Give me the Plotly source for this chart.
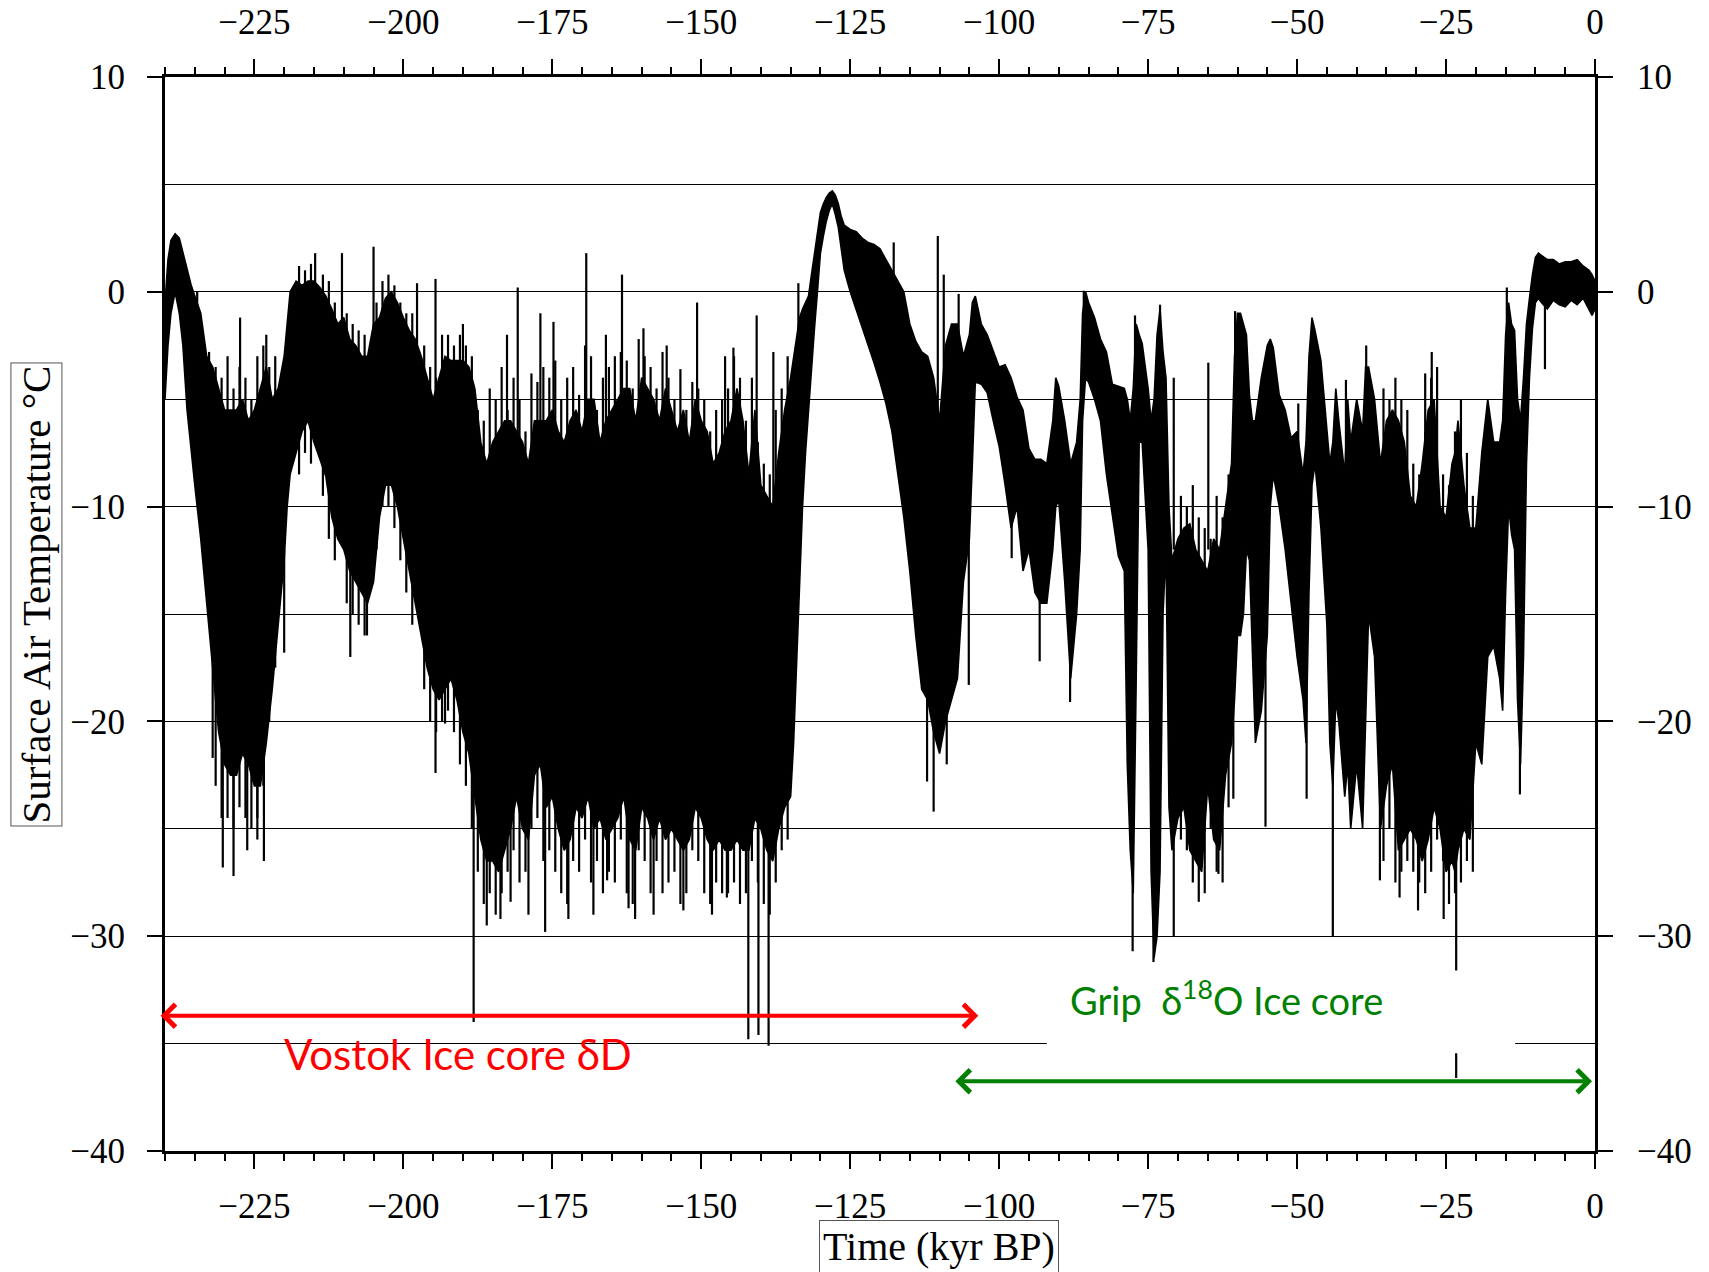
import plotly.graph_objects as go

# ---------------- data ----------------
# band of the temperature record: time (kyr BP), lower and upper envelope (deg C)
t_env = [-240.0, -239.5, -239.0, -238.3, -237.6, -237.0, -236.3, -235.6, -235.0, -234.0,
         -233.0, -232.0, -231.0, -230.0, -229.0, -228.0, -227.0, -226.0, -225.0, -224.0,
         -223.0, -222.0, -221.0, -220.0, -219.5, -219.0, -218.0, -217.0, -216.0, -215.0,
         -214.0, -213.0, -212.0, -211.0, -210.0, -209.0, -208.0, -207.0, -206.0, -205.0,
         -204.0, -203.0, -202.0, -201.0, -200.0, -199.0, -198.0, -197.0, -196.0, -195.0,
         -194.0, -193.0, -192.0, -191.0, -190.0, -189.0, -188.0, -187.0, -186.0, -185.0,
         -184.0, -183.0, -182.0, -181.0, -180.0, -179.0, -178.0, -177.0, -176.0, -175.0,
         -174.0, -173.0, -172.0, -171.0, -170.0, -169.0, -168.0, -167.0, -166.0, -165.0,
         -164.0, -163.0, -162.0, -161.0, -160.0, -159.0, -158.0, -157.0, -156.0, -155.0,
         -154.0, -153.0, -152.0, -151.0, -150.0, -149.0, -148.0, -147.0, -146.0, -145.0,
         -144.0, -143.0, -142.0, -141.0, -140.0, -139.0, -138.0, -137.0, -136.0, -135.0,
         -134.5, -134.0, -133.5, -133.0, -132.5, -132.0, -131.5, -131.0, -130.5, -130.0,
         -129.5, -129.0, -128.5, -128.0, -127.5, -127.0, -126.5, -126.0, -125.0, -124.0,
         -123.0, -122.0, -121.0, -120.0, -119.0, -118.0, -117.0, -116.0, -115.0, -114.0,
         -113.0, -112.0, -111.0, -110.0, -109.0, -108.0, -107.0, -106.0, -105.0, -104.5,
         -104.0, -103.0, -102.0, -101.0, -100.0, -99.0, -98.0, -97.0, -96.0, -95.0,
         -94.0, -93.0, -92.0, -91.0, -90.5, -90.0, -89.0, -88.0, -87.0, -86.4,
         -86.0, -85.5, -85.0, -84.0, -83.0, -82.0, -81.0, -80.0, -79.0, -78.5,
         -78.0, -77.5, -77.0, -76.5, -76.0, -75.0, -74.5, -74.0, -73.5, -73.0,
         -72.5, -72.0, -71.5, -71.0, -70.0, -69.0, -68.0, -67.0, -66.0, -65.0,
         -64.0, -63.0, -62.0, -61.0, -60.5, -60.0, -59.5, -59.0, -58.5, -58.0,
         -57.5, -57.0, -56.0, -55.0, -54.5, -54.0, -53.0, -52.0, -51.0, -50.0,
         -49.0, -48.5, -48.0, -47.5, -47.0, -46.0, -45.0, -44.5, -44.0, -43.5,
         -43.0, -42.0, -41.5, -41.0, -40.0, -39.0, -38.5, -38.0, -37.0, -36.0,
         -35.0, -34.0, -33.0, -32.0, -31.0, -30.0, -29.0, -28.0, -27.0, -26.0,
         -25.0, -24.0, -23.5, -23.0, -22.0, -21.0, -20.0, -19.0, -18.0, -17.0,
         -16.0, -15.5, -15.0, -14.5, -14.0, -13.5, -13.0, -12.5, -12.0, -11.5,
         -11.0, -10.5, -10.0, -9.5, -9.0, -8.0, -7.0, -6.0, -5.0, -4.0,
         -3.0, -2.0, -1.0, -0.5, 0.0]

temp_lo = [-5.0, -2.5, -1.0, 0.0, -1.0, -2.5, -5.5, -7.5, -9.0, -11.5,
           -14.5, -17.5, -20.5, -22.0, -22.5, -22.5, -21.5, -22.0, -23.0, -23.0,
           -21.0, -18.5, -15.5, -12.5, -10.0, -8.5, -7.5, -6.5, -6.0, -7.0,
           -7.8, -8.6, -10.5, -11.5, -12.0, -13.0, -13.5, -14.0, -14.5, -13.5,
           -10.5, -9.0, -9.0, -10.0, -11.5, -13.0, -14.5, -16.0, -17.5, -18.5,
           -19.0, -18.5, -18.0, -19.0, -20.5, -21.5, -23.5, -25.5, -26.5, -26.5,
           -27.0, -26.0, -25.0, -23.5, -25.0, -25.5, -22.5, -22.0, -24.0, -23.5,
           -25.0, -26.0, -25.5, -24.0, -24.5, -23.5, -25.0, -24.5, -25.5, -25.0,
           -24.5, -23.5, -25.5, -26.0, -24.0, -24.5, -25.5, -24.5, -25.5, -25.0,
           -25.5, -26.0, -25.5, -24.0, -24.5, -25.5, -26.0, -25.5, -26.0, -26.0,
           -25.5, -26.0, -26.0, -24.5, -25.0, -26.0, -26.5, -25.0, -24.0, -23.5,
           -21.0, -17.0, -13.5, -10.0, -7.5, -5.4, -3.5, -1.7, 0.0, 1.8,
           2.6, 3.3, 3.8, 4.1, 3.6, 3.0, 2.0, 1.0, 0.0, -0.8,
           -1.6, -2.5, -3.3, -4.2, -5.2, -6.5, -8.5, -10.5, -13.0, -16.0,
           -18.5, -19.0, -20.5, -21.5, -20.0, -19.0, -18.0, -13.5, -11.5, -8.0,
           -4.2, -4.3, -4.7, -6.0, -7.2, -9.0, -11.0, -10.0, -13.0, -12.0,
           -14.0, -14.5, -14.5, -12.0, -10.0, -9.7, -13.5, -18.0, -15.0, -12.0,
           -6.0, -4.0, -4.2, -5.0, -6.0, -8.5, -10.5, -12.3, -13.0, -22.0,
           -26.0, -28.0, -18.0, -7.0, -7.0, -12.0, -27.0, -31.0, -30.0, -27.0,
           -15.0, -12.0, -24.0, -26.0, -24.5, -24.0, -26.0, -26.5, -27.0, -23.0,
           -25.5, -26.0, -22.5, -21.0, -19.0, -16.0, -16.0, -15.0, -12.0, -12.5,
           -17.0, -21.0, -19.5, -16.0, -10.0, -8.5, -10.0, -12.0, -14.5, -17.0,
           -19.0, -21.0, -14.0, -9.0, -8.0, -11.0, -15.5, -21.0, -23.0, -19.0,
           -20.0, -23.5, -22.0, -25.0, -22.0, -25.0, -20.0, -15.0, -17.0, -25.0,
           -23.0, -22.0, -26.0, -25.5, -25.0, -25.5, -26.5, -25.5, -24.0, -25.0,
           -27.0, -26.5, -27.0, -26.0, -25.0, -25.5, -21.0, -22.0, -17.0, -16.5,
           -18.0, -19.5, -14.0, -10.0, -11.3, -12.0, -19.0, -22.0, -17.0, -8.0,
           -4.0, -1.7, -0.5, -0.3, -0.5, -0.8, -0.4, -0.6, -0.7, -0.4,
           -0.6, -0.3, -0.8, -1.1, -0.8]

temp_hi = [-0.5, 1.5, 2.4, 2.7, 2.5, 1.8, 1.0, 0.3, -0.2, -1.0,
           -3.0, -3.5, -4.5, -5.5, -5.5, -5.5, -5.0, -6.0, -5.5, -4.5,
           -3.5, -5.0, -4.5, -3.0, -1.5, 0.0, 0.5, 0.3, 0.5, 0.5,
           0.2, -0.2, -0.8, -1.5, -1.2, -2.2, -2.5, -3.0, -3.0, -1.5,
           -1.2, -0.3, 0.0, -0.5, -1.2, -1.8, -2.2, -3.0, -4.0, -5.0,
           -4.0, -3.0, -3.2, -3.2, -3.2, -3.5, -4.5, -7.0, -8.0, -7.0,
           -6.5, -6.0, -6.0, -6.5, -7.0, -8.0, -6.0, -6.0, -6.0, -5.5,
           -6.5, -7.0, -6.0, -5.5, -6.5, -5.0, -5.0, -7.0, -6.0, -5.5,
           -5.0, -4.5, -4.5, -6.0, -4.0, -4.5, -5.0, -6.0, -4.5, -5.5,
           -6.5, -5.5, -7.0, -5.0, -6.0, -6.5, -8.0, -7.5, -6.5, -6.0,
           -4.5, -6.0, -8.5, -5.5, -9.0, -9.5, -10.0, -7.5, -5.5, -4.0,
           -3.0, -2.0, -1.2, -0.8, -0.5, -0.2, 0.8, 1.8, 2.8, 3.7,
           4.1, 4.4, 4.6, 4.7, 4.5, 4.1, 3.5, 3.1, 2.9, 2.8,
           2.5, 2.3, 2.2, 2.0, 1.5, 1.0, 0.5, 0.0, -1.5, -2.3,
           -2.8, -3.0, -4.0, -6.0, -2.5, -1.5, -1.5, -3.0, -2.0, -0.5,
           -0.2, -1.5, -2.0, -2.8, -3.5, -3.4, -4.0, -4.9, -5.5, -7.3,
           -7.8, -7.8, -8.0, -6.0, -4.0, -4.4, -6.0, -8.0, -7.0, -5.0,
           -1.0, 0.0, -0.5, -1.2, -2.2, -2.8, -4.3, -4.4, -4.5, -5.0,
           -6.0, -4.5, -1.5, -2.0, -2.4, -4.5, -6.0, -5.0, -2.0, -0.8,
           -2.8, -4.0, -10.0, -12.5, -11.5, -11.0, -10.8, -12.0, -12.5, -13.0,
           -11.5, -12.0, -10.0, -8.0, -3.0, -1.0, -1.0, -1.5, -2.0, -4.8,
           -6.0, -6.0, -4.0, -2.5, -2.2, -2.6, -4.8, -5.5, -6.8, -6.5,
           -8.5, -7.0, -3.0, -1.2, -1.8, -3.2, -6.5, -8.0, -7.0, -4.5,
           -6.0, -8.5, -5.0, -7.0, -5.0, -6.5, -3.5, -3.5, -5.0, -8.0,
           -6.0, -5.5, -6.0, -7.0, -9.5, -10.0, -8.0, -5.5, -5.0, -10.0,
           -10.5, -8.0, -7.5, -6.0, -9.0, -11.0, -11.0, -7.5, -5.0, -7.0,
           -7.0, -6.0, -2.0, -0.5, -1.5, -1.8, -5.0, -6.0, -4.0, -1.5,
           -0.3, 0.8, 1.6, 1.8, 1.7, 1.5, 1.5, 1.3, 1.4, 1.4,
           1.5, 1.2, 1.0, 0.8, 0.5]

# isolated single-sample excursions (time, from, to) in deg C
spike_t = [-234.6, -232.6, -227.4, -223.0, -214.8, -210.3, -205.0, -197.7, -194.6, -190.0,
           -182.6, -180.8, -177.0, -174.8, -169.3, -166.0, -163.3, -159.7, -155.8, -150.7,
           -146.0, -144.6, -140.7, -137.9, -133.7, -117.7, -110.3, -109.3, -106.8,
           -232.0, -230.3, -228.5, -226.2, -224.5, -223.4, -220.0, -208.9, -206.1, -194.6,
           -193.0, -188.2, -186.0, -183.7, -182.0, -179.0, -176.2, -172.3, -168.1, -165.8,
           -162.2, -161.1, -158.0, -153.0, -148.2, -145.7, -142.1, -140.4, -138.7, -112.1,
           -111.0, -108.8, -105.1, -97.9, -93.2, -88.1, -77.6, -74.1, -70.7, -66.5,
           -63.2, -60.7, -55.3, -48.4, -44.0, -36.1, -32.8, -29.7, -25.4, -23.3,
           -12.6, -8.4,
           -85.8, -77.2, -73.0, -70.7, -64.9, -60.4, -49.8, -41.8, -38.4, -28.5,
           -27.4, -14.8]
spike_from = [-6, -8, -8, -8, -3, -5, -4, -5, -8, -8,
              -8, -9, -8, -8, -8, -8, -8, -8, -8, -8,
              -9, -8, -10, -10, -5, -2, -8, -6, -5,
              -15, -18, -18, -18, -18, -18, -12, -12, -12, -16,
              -16, -20, -22, -22, -22, -22, -22, -22, -22, -22,
              -22, -22, -22, -22, -22, -22, -22, -22, -22, -16,
              -16, -16, -10, -8, -12, -12, -20, -20, -20, -20,
              -20, -15, -15, -15, -18, -18, -18, -18, -18, -18,
              -15, 0,
              -4, -6, -6, -12, -12, -6, -10, -8, -6, -8,
              -8, -5]
spike_to = [0.0, -2.8, -1.2, -2.0, 1.8, 1.8, 2.1, 0.4, 0.6, -1.5,
            -2.0, 0.2, -1.0, -1.4, 1.8, -2.0, 0.8, -1.7, -2.5, -0.5,
            -3.0, -2.6, -1.1, -2.8, 0.4, 2.3, 2.6, 0.8, -0.1,
            -21.7, -26.8, -27.2, -26.0, -25.5, -26.5, -16.8, -17.0, -16.0, -22.4,
            -20.1, -34.0, -29.5, -29.2, -28.4, -29.0, -29.8, -29.2, -29.0, -27.4,
            -28.7, -29.2, -29.0, -28.8, -29.0, -28.2, -34.8, -34.6, -35.1, -22.8,
            -24.2, -22.0, -18.3, -12.4, -17.2, -19.1, -30.7, -31.2, -30.0, -28.4,
            -27.1, -23.6, -24.9, -23.6, -30.0, -27.4, -28.2, -28.8, -29.2, -36.6,
            -23.4, -3.6,
            0.05, -1.1, -0.6, -4.0, -3.3, -0.9, -5.2, -4.1, -2.5, -3.8,
            -2.8, 0.2]

# dense short excursions forming the ragged edges of the noisy band
comb_t = ([-231.5, -230.5, -229.5, -228.5, -227.5, -226.5, -225.5, -224.5, -223.5, -222.5, -221.5] * 2
          + [-217.5, -216.5, -215.5, -213.5, -212.5, -211.5, -209.5, -208.5, -207.5, -206.5,
             -204.5, -203.5, -202.5, -201.5, -200.5, -199.5, -198.5] * 2
          + [-196.5, -195.5, -194.5, -193.5, -192.5, -191.5, -190.5, -189.5, -188.5, -187.5] * 2
          + [-186.5, -185.5, -184.5, -183.5, -182.5, -181.5, -180.5, -179.5, -178.5, -177.5,
             -176.5, -175.5, -174.5, -173.5, -172.5, -171.5, -170.5, -169.5, -168.5, -167.5,
             -166.5, -165.5, -164.5, -163.5, -162.5, -161.5, -160.5, -159.5, -158.5, -157.5,
             -156.5, -155.5, -154.5, -153.5, -152.5, -151.5, -150.5, -149.5, -148.5, -147.5,
             -146.5, -145.5, -144.5, -143.5, -142.5, -141.5, -140.5, -139.5, -138.5, -137.5,
             -136.5, -135.5] * 2
          + [-69.5, -68.5, -67.5, -66.5, -65.5, -64.5, -63.5, -62.5, -61.5] * 2
          + [-35.5, -34.5, -33.5, -32.5, -31.5, -30.5, -29.5, -28.5, -27.5, -26.5,
             -25.5, -24.5, -23.5, -22.5, -21.5, -20.5] * 2)
comb_from = ([-12] * 22 + [-4] * 17 + [-6] * 17 + [-10] * 10 + [-12] * 10
             + [-12] * 52 + [-18] * 52 + [-18] * 18 + [-15] * 32)
comb_to = ([-3.5, -4.0, -3.0, -4.5, -3.5, -4.0, -5.0, -3.0, -2.5, -3.5, -3.0,
            -23.0, -24.5, -24.5, -25.0, -24.0, -24.5, -25.0, -24.5, -23.0, -20.0, -17.5]
           + [1.2, 1.0, 1.3, 0.8, 0.5, -0.5, -1.0, -1.5, -1.8, -2.0,
              -0.5, 0.5, 0.8, 0.3, -0.5, -1.0, -1.0,
              -8.5, -7.5, -8.0, -9.5, -11.5, -12.5, -14.5, -15.0, -15.5, -16.0,
              -12.0, -10.0, -10.0, -11.0, -12.5, -14.0, -15.5]
           + [-2.5, -3.5, -4.0, -2.0, -2.0, -2.5, -2.0, -2.5, -3.0, -5.5,
              -18.5, -20.0, -20.5, -20.0, -19.5, -20.5, -22.0, -23.0, -25.0, -27.0]
           + [-6.0, -4.5, -5.0, -3.5, -5.5, -4.0, -5.0, -6.5, -3.8, -4.2,
              -3.5, -4.0, -3.2, -5.0, -4.0, -3.5, -4.8, -2.5, -3.0, -5.5,
              -4.0, -3.5, -3.0, -2.8, -3.2, -4.5, -2.2, -3.0, -3.5, -4.5,
              -2.8, -4.0, -5.0, -3.6, -5.5, -4.2, -4.5, -5.0, -6.5, -5.5,
              -5.0, -4.5, -3.0, -4.0, -6.0, -4.0, -7.0, -8.0, -8.5, -5.5,
              -4.5, -3.0,
              -28.5, -28.0, -29.0, -28.0, -27.0, -26.0, -27.5, -27.0, -25.0, -24.5,
              -26.5, -26.0, -27.0, -28.0, -28.5, -26.5, -27.0, -25.5, -27.5, -26.5,
              -28.0, -27.0, -27.5, -25.5, -28.0, -28.5, -26.0, -26.5, -28.0, -26.5,
              -28.0, -27.5, -27.0, -28.5, -28.0, -26.0, -26.5, -28.0, -28.5, -27.5,
              -28.0, -28.0, -27.5, -28.5, -28.0, -26.5, -27.5, -28.5, -29.0, -27.5,
              -26.0, -25.5]
           + [-9.5, -10.0, -9.0, -10.5, -11.0, -11.5, -9.5, -10.5, -8.5,
              -25.5, -26.0, -27.5, -26.5, -28.0, -25.0, -27.0, -27.5, -24.0]
           + [-4.5, -5.0, -4.0, -5.0, -5.5, -8.0, -8.5, -6.5, -4.0, -3.5,
              -8.5, -9.0, -6.5, -5.0, -7.5, -9.5,
              -26.5, -25.0, -27.5, -27.0, -26.5, -27.0, -27.5, -28.0, -27.0, -25.5,
              -26.5, -28.5, -28.0, -27.5, -26.5, -27.0])

x_range = [-240, 0]
y_range = [-40, 10]
x_ticks = [-225, -200, -175, -150, -125, -100, -75, -50, -25, 0]
y_ticks = [10, 0, -10, -20, -30, -40]

vostok_span = [-241.0, -103.5]
vostok_arrow_y = -33.7
grip_span = [-107.6, -0.5]
grip_arrow_y = -36.75

# ---------------- figure ----------------
seg_x, seg_y = [], []
for t, a, b in zip(spike_t + comb_t, spike_from + comb_from, spike_to + comb_to):
    seg_x += [t, t, None]
    seg_y += [a, b, None]

fig = go.Figure()
fig.add_trace(go.Scatter(x=t_env, y=temp_lo, mode="lines",
                         line=dict(color="black", width=1.6), hoverinfo="skip"))
fig.add_trace(go.Scatter(x=t_env, y=temp_hi, mode="lines", fill="tonexty",
                         fillcolor="black",
                         line=dict(color="black", width=1.6), hoverinfo="skip"))
fig.add_trace(go.Scatter(x=seg_x, y=seg_y, mode="lines", xaxis="x2", yaxis="y2",
                         line=dict(color="black", width=2.2), hoverinfo="skip",
                         connectgaps=False))

tick_font = dict(family="Liberation Serif, Times New Roman, serif", size=35, color="black")

xcommon = dict(range=x_range, tickmode="array", tickvals=x_ticks,
               ticks="outside", ticklen=15, tickwidth=2, tickcolor="black",
               showline=True, linewidth=3, linecolor="black", automargin=False,
               showgrid=False, zeroline=False, tickfont=tick_font,
               minor=dict(dtick=5, tick0=0, ticks="outside", ticklen=7,
                          tickwidth=1.5, tickcolor="black", showgrid=False))
ycommon = dict(range=y_range, tickmode="array", tickvals=y_ticks,
               ticks="outside", ticklen=15, tickwidth=2, tickcolor="black",
               showline=True, linewidth=3, linecolor="black", automargin=False,
               zeroline=False, tickfont=tick_font)

fig.update_layout(
    width=1709, height=1272,
    margin=dict(l=165, r=114, t=77, b=121, autoexpand=False),
    paper_bgcolor="white", plot_bgcolor="white",
    showlegend=False,
    xaxis=dict(**xcommon, side="bottom", anchor="y", ticklabelstandoff=7),
    xaxis2=dict(**xcommon, side="top", overlaying="x", matches="x", anchor="y2",
                ticklabelstandoff=11),
    yaxis=dict(**ycommon, side="left", anchor="x", showgrid=True,
               gridcolor="black", gridwidth=1.3, ticklabelstandoff=15,
               minor=dict(dtick=5, tick0=0, showgrid=True, gridcolor="black",
                          gridwidth=1.3, ticks="")),
    yaxis2=dict(**ycommon, side="right", overlaying="y", matches="y",
                anchor="x2", showgrid=False, ticklabelstandoff=17),
)

# white label box behind the GRIP caption (interrupts the -35 grid line)
fig.add_shape(type="rect", xref="x", yref="y", x0=-92, x1=-13.4, y0=-35.45, y1=-31.6,
              fillcolor="white", line=dict(width=0), layer="above")

# arrows
fig.add_annotation(x=vostok_span[1], y=vostok_arrow_y, ax=vostok_span[0], ay=vostok_arrow_y,
                   xref="x", yref="y", axref="x", ayref="y", text="", showarrow=True,
                   arrowside="end+start", arrowhead=4, startarrowhead=4,
                   arrowsize=1.1, startarrowsize=1.1, arrowwidth=4, arrowcolor="#FF0000")
fig.add_annotation(x=grip_span[1], y=grip_arrow_y, ax=grip_span[0], ay=grip_arrow_y,
                   xref="x", yref="y", axref="x", ayref="y", text="", showarrow=True,
                   arrowside="end+start", arrowhead=4, startarrowhead=4,
                   arrowsize=1.1, startarrowsize=1.1, arrowwidth=4, arrowcolor="#008000")

label_font = "Lato, Open Sans, sans-serif"
fig.add_annotation(x=-190.8, y=-35.5, xref="x", yref="y", showarrow=False,
                   text="Vostok Ice core δD",
                   font=dict(family=label_font, size=42, color="#FF0000"))
fig.add_annotation(x=-61.8, y=-32.9, xref="x", yref="y", showarrow=False,
                   text="Grip\u00a0\u00a0δ<sup>18</sup>O Ice core",
                   font=dict(family=label_font, size=38, color="#008000"))

# axis titles in boxes
title_font = dict(family="Liberation Serif, Times New Roman, serif", size=40, color="black")
fig.add_annotation(x=-0.0899, y=0.5186, xref="paper", yref="paper", showarrow=False,
                   text="Surface Air Temperature °C", textangle=-90,
                   font=dict(family=title_font["family"], size=41, color="black"),
                   bordercolor="#555555", borderwidth=1, borderpad=2, bgcolor="white",
                   xanchor="center", yanchor="middle")
fig.add_annotation(x=0.541, y=-0.0889, xref="paper", yref="paper", showarrow=False,
                   text="Time (kyr BP)", font=title_font,
                   bordercolor="#555555", borderwidth=1, borderpad=3, bgcolor="white",
                   xanchor="center", yanchor="middle")

fig.write_html("out.html")
